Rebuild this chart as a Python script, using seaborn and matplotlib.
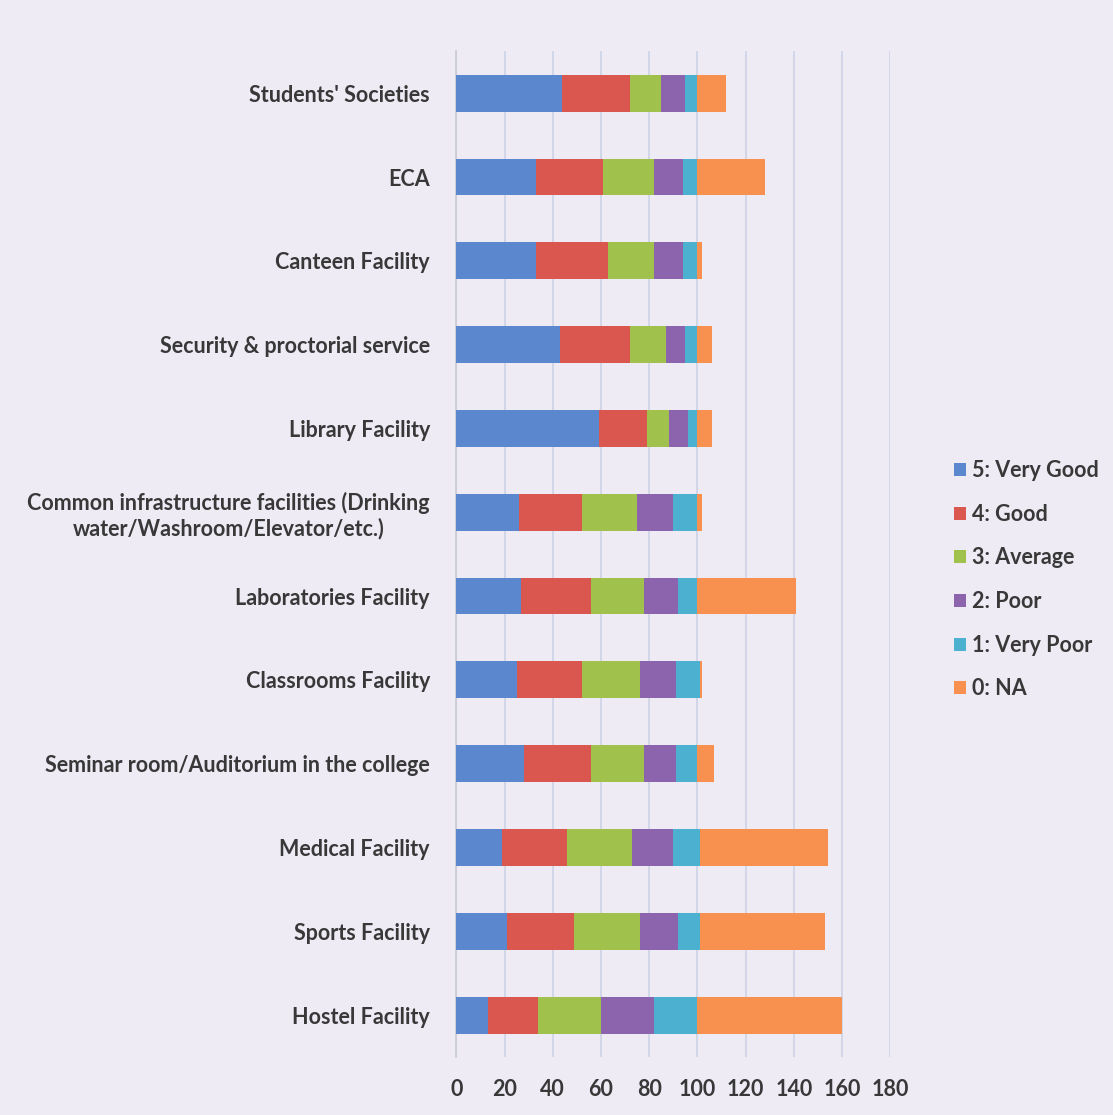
import numpy as np
import pandas as pd
import matplotlib
matplotlib.use("Agg")
import matplotlib.pyplot as plt
import seaborn as sns
from matplotlib.patches import Patch

# ─────────────────────────────────────────────
#  DATA
# ─────────────────────────────────────────────
facilities = [
    "Students' Societies",
    "ECA",
    "Canteen Facility",
    "Security & proctorial service",
    "Library Facility",
    "Common infrastructure facilities (Drinking\nwater/Washroom/Elevator/etc.)",
    "Laboratories Facility",
    "Classrooms Facility",
    "Seminar room/Auditorium in the college",
    "Medical Facility",
    "Sports Facility",
    "Hostel Facility",
]

ratings = ["5: Very Good", "4: Good", "3: Average", "2: Poor", "1: Very Poor", "0: NA"]

very_good = [44, 33, 33, 43, 59, 26, 27, 25, 28, 19, 21, 13]
good      = [28, 28, 30, 29, 20, 26, 29, 27, 28, 27, 28, 21]
average   = [13, 21, 19, 15,  9, 23, 22, 24, 22, 27, 27, 26]
poor      = [10, 12, 12,  8,  8, 15, 14, 15, 13, 17, 16, 22]
very_poor = [ 5,  6,  6,  5,  4, 10,  8, 10,  9, 11,  9, 18]
na        = [12, 28,  2,  6,  6,  2, 41,  1,  7, 53, 52, 60]

colors = ["#5a87cd", "#d9574f", "#a0c24c", "#8b64ad", "#4cb0d0", "#f8904f"]
bg = "#eeebf5"
txt = "#383838"

df = pd.DataFrame({
    "facility": facilities,
    ratings[0]: very_good,
    ratings[1]: good,
    ratings[2]: average,
    ratings[3]: poor,
    ratings[4]: very_poor,
    ratings[5]: na,
})
cum = df[ratings].cumsum(axis=1)
cum["facility"] = df["facility"]

# ─────────────────────────────────────────────
#  PLOT
# ─────────────────────────────────────────────
sns.set_theme(style="white")
plt.rcParams["font.family"] = ["Lato", "DejaVu Sans"]

fig = plt.figure(figsize=(11.13, 11.15), dpi=100, facecolor=bg)
ax = fig.add_axes([0.410, 0.052, 0.390, 0.902])
ax.set_facecolor(bg)

# stacked bars: draw cumulative totals from the last segment to the first
for r, c in reversed(list(zip(ratings, colors))):
    sns.barplot(data=cum, x=r, y="facility", orient="h", color=c,
                width=0.44, saturation=1, ax=ax, edgecolor="none",
                zorder=3)

ax.set_xlim(0, 180)
ax.set_xticks(np.arange(0, 181, 20))
ax.set_ylim(11.5, -0.5)
ax.grid(axis="x", color="#c9d0e6", linewidth=1.1, zorder=0)
ax.grid(axis="y", visible=False)
for s in ["top", "right", "bottom"]:
    ax.spines[s].set_visible(False)
ax.spines["left"].set_color("#c9cbd6")
ax.set_xlabel("")
ax.set_ylabel("")
ax.tick_params(axis="x", length=0, pad=16, labelsize=15.5, labelcolor=txt)
ax.tick_params(axis="y", length=0, pad=19, labelsize=15.5, labelcolor=txt)
for t in ax.get_xticklabels() + ax.get_yticklabels():
    t.set_fontweight("bold")
for t in ax.get_yticklabels():
    t.set_multialignment("center")

handles = [Patch(facecolor=c, edgecolor="none") for c in colors]
leg = fig.legend(handles, ratings, loc="center left",
                 bbox_to_anchor=(0.857, 0.48), frameon=False,
                 borderpad=0, borderaxespad=0,
                 fontsize=15.5, labelspacing=1.05, handlelength=0.55,
                 handleheight=0.55, handletextpad=0.3)
for t in leg.get_texts():
    t.set_color(txt)
    t.set_fontweight("bold")

fig.savefig("out.png", dpi=100, facecolor=bg)
